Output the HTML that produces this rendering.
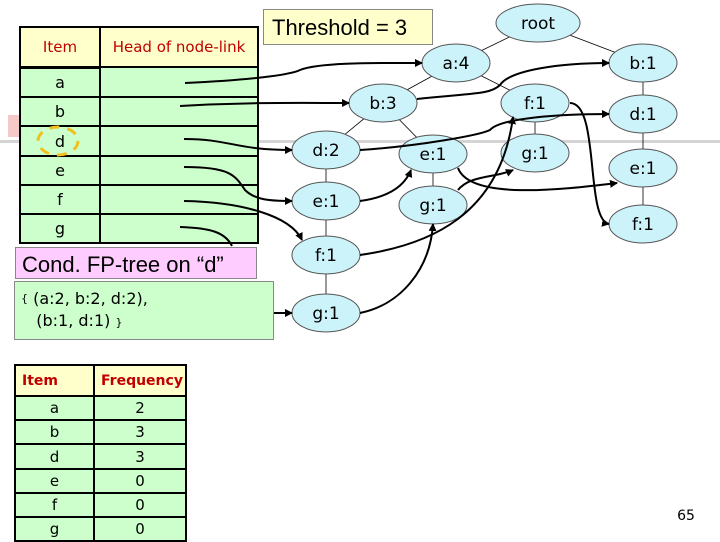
<!DOCTYPE html><html><head><style>
body{margin:0;width:720px;height:540px;overflow:hidden;background:#fff;font-family:"DejaVu Sans","Liberation Sans",sans-serif;position:relative}
.a{position:absolute}
table{border-collapse:collapse;position:absolute}
td{border:2px solid #000;padding:0;text-align:center;font-size:16px}
</style></head><body>
<div class="a" style="left:8px;top:115px;width:14px;height:22px;background:#f6c9c9"></div>
<div class="a" style="left:0;top:140px;width:720px;height:3px;background:#d4d4d4"></div>
<table style="left:19px;top:26px;width:240px">
<tr style="height:40px;background:#ffffcc;color:#c00000"><td style="width:78px;border-bottom-width:3px;font-size:15px">Item</td><td style="font-size:15px">Head of node-link</td></tr>
<tr style="height:30px;background:#ccffcc"><td>a</td><td></td></tr>
<tr style="height:29px;background:#ccffcc"><td>b</td><td></td></tr>
<tr style="height:30px;background:#ccffcc"><td>d</td><td></td></tr>
<tr style="height:29px;background:#ccffcc"><td>e</td><td></td></tr>
<tr style="height:29px;background:#ccffcc"><td>f</td><td></td></tr>
<tr style="height:29px;background:#ccffcc"><td>g</td><td></td></tr>
</table>
<div class="a" style="left:15px;top:247px;width:242px;height:32px;background:#ffccff;border:1px solid #888;font-size:22px;line-height:34px;padding-left:6px;box-sizing:border-box;font-family:'Liberation Sans',sans-serif">Cond. FP-tree on “d”</div>
<div class="a" style="left:14px;top:281px;width:260px;height:59px;background:#ccffcc;border:1px solid #888;box-sizing:border-box;font-size:16px;padding:6px 0 0 6px;line-height:22px"><span style="font-size:11px;vertical-align:top">{</span> (a:2, b:2, d:2),<br>&nbsp;&nbsp;&nbsp;(b:1, d:1) <span style="font-size:11px">}</span></div>
<div class="a" style="left:263px;top:9px;width:170px;height:36px;background:#ffffcc;border:1px solid #888;box-sizing:border-box;font-size:22px;line-height:36px;padding-left:8px;font-family:'Liberation Sans',sans-serif">Threshold = 3</div>
<table style="left:14px;top:364px;width:173px">
<tr style="height:31px;background:#ffffcc;color:#c00000;font-weight:bold"><td style="width:71px;text-align:left;padding-left:6px;font-size:14px">Item</td><td style="text-align:left;padding-left:6px;font-size:14px">Frequency</td></tr>
<tr style="height:24px;background:#ccffcc"><td style="font-size:15px">a</td><td style="font-size:15px">2</td></tr>
<tr style="height:24px;background:#ccffcc"><td style="font-size:15px">b</td><td style="font-size:15px">3</td></tr>
<tr style="height:25px;background:#ccffcc"><td style="font-size:15px">d</td><td style="font-size:15px">3</td></tr>
<tr style="height:24px;background:#ccffcc"><td style="font-size:15px">e</td><td style="font-size:15px">0</td></tr>
<tr style="height:24px;background:#ccffcc"><td style="font-size:15px">f</td><td style="font-size:15px">0</td></tr>
<tr style="height:24px;background:#ccffcc"><td style="font-size:15px">g</td><td style="font-size:15px">0</td></tr>
</table>
<svg class="a" style="left:0;top:0" width="720" height="540">
<defs><marker id="m" markerWidth="8" markerHeight="8" refX="7" refY="4" orient="auto" markerUnits="userSpaceOnUse"><path d="M0,0L8,4L0,8z" fill="#000"/></marker></defs>
<ellipse cx="58" cy="141" rx="20" ry="14" fill="none" stroke="#f0c020" stroke-width="3" stroke-dasharray="10,8"/>
<g stroke="#000" stroke-width="0.8">
<line x1="538" y1="23" x2="456" y2="63"/><line x1="538" y1="23" x2="643" y2="63"/>
<line x1="456" y1="63" x2="383" y2="103"/><line x1="456" y1="63" x2="535" y2="103"/>
<line x1="383" y1="103" x2="326" y2="150"/><line x1="383" y1="103" x2="433" y2="154"/>
<line x1="326" y1="150" x2="326" y2="313"/><line x1="433" y1="154" x2="433" y2="205"/>
<line x1="535" y1="103" x2="535" y2="153"/><line x1="643" y1="63" x2="643" y2="224"/>
</g>
<g fill="#ccf2fa" stroke="#555" stroke-width="1">
<ellipse cx="538" cy="23" rx="42" ry="19"/>
<ellipse cx="456" cy="63" rx="34" ry="19"/><ellipse cx="383" cy="103" rx="34" ry="19"/>
<ellipse cx="326" cy="150" rx="34" ry="19"/><ellipse cx="326" cy="201" rx="34" ry="19"/>
<ellipse cx="326" cy="255" rx="34" ry="19"/><ellipse cx="326" cy="313" rx="34" ry="19"/>
<ellipse cx="433" cy="154" rx="34" ry="19"/><ellipse cx="433" cy="205" rx="34" ry="19"/>
<ellipse cx="535" cy="103" rx="34" ry="19"/><ellipse cx="535" cy="153" rx="34" ry="19"/>
<ellipse cx="643" cy="63" rx="34" ry="19"/><ellipse cx="643" cy="114" rx="34" ry="19"/>
<ellipse cx="643" cy="168" rx="34" ry="19"/><ellipse cx="643" cy="224" rx="34" ry="19"/>
</g>
<g fill="none" stroke="#000" stroke-width="2" marker-end="url(#m)">
<path d="M185,83 C250,80 290,75 300,70 C320,62 380,63 422,63"/>
<path d="M180,106 C250,102 300,103 349,103"/>
<path d="M417,99 C470,93 490,95 500,85 C510,70 560,63 609,63"/>
<path d="M184,139 C230,139 235,150 292,150"/>
<path d="M360,150 C420,146 480,135 490,130 C500,118 560,114 609,114"/>
<path d="M184,167 C230,167 235,175 245,190 C255,200 270,201 292,201"/>
<path d="M360,201 C390,197 405,185 411,170"/>
<path d="M458,168 C470,200 560,190 617,183"/>
<path d="M184,201 C240,202 290,215 302,240"/>
<path d="M360,255 C430,245 500,215 513,117"/>
<path d="M570,103 C600,103 585,220 609,224"/>
<path d="M180,227 C210,228 225,232 232,246" marker-end="none"/>
<path d="M274,313 L292,313"/>
<path d="M360,313 C400,305 430,270 433,224"/>
<path d="M458,190 C470,175 495,178 513,170"/>
</g>
<g font-size="17" text-anchor="middle">
<text x="538" y="29">root</text>
<text x="456" y="69">a:4</text><text x="383" y="109">b:3</text>
<text x="326" y="156">d:2</text><text x="326" y="207">e:1</text><text x="326" y="261">f:1</text><text x="326" y="319">g:1</text>
<text x="433" y="160">e:1</text><text x="433" y="211">g:1</text>
<text x="535" y="109">f:1</text><text x="535" y="159">g:1</text>
<text x="643" y="69">b:1</text><text x="643" y="120">d:1</text><text x="643" y="174">e:1</text><text x="643" y="230">f:1</text>
</g>
<text x="686" y="520" font-size="14" text-anchor="middle">65</text>
</svg>
</body></html>
